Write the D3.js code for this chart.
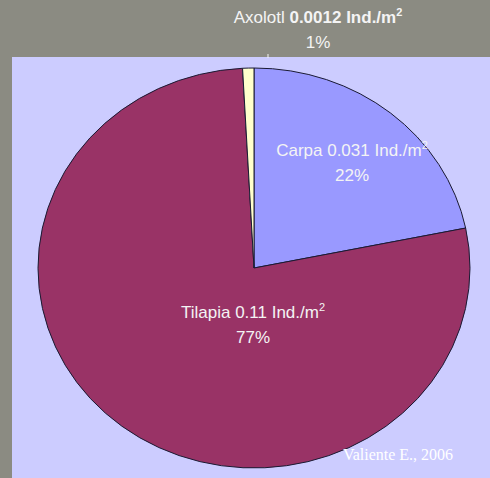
<!DOCTYPE html>
<html><head><meta charset="utf-8">
<script src="https://cdn.jsdelivr.net/npm/d3@7"></script>
<style>body{margin:0;background:#8b8b82;}svg{display:block;}</style>
</head><body>
<svg id="c" width="490" height="478"></svg>
<script>
const categories = ["Carpa", "Tilapia", "Axolotl"];
const densities = [0.031, 0.11, 0.0012];
const percentLabels = ["22%", "77%", "1%"];
const colors = ["#9999ff", "#993366", "#ffffcc"];

const svg = d3.select("#c");
svg.append("rect").attr("width",490).attr("height",478).attr("fill","#8b8b82");
svg.append("rect").attr("x",12).attr("y",57).attr("width",478).attr("height",421).attr("fill","#ccccff");

const cx = 254, cy = 268, r = 200, sx = 1.08;
const pie = d3.pie().sort(null).value(d=>d)(densities);
const arc = d3.arc().innerRadius(0).outerRadius(r);
const g = svg.append("g").attr("transform",`translate(${cx},${cy}) scale(${sx},1)`);
g.selectAll("path").data(pie).join("path")
  .attr("d",arc).attr("fill",(d,i)=>colors[i])
  .attr("stroke","#1a1a33").attr("stroke-width",1).attr("vector-effect","non-scaling-stroke");

const font = "'Liberation Sans', Arial, sans-serif";
function label(x, y, name, val, pct, boldVal){
  const t = svg.append("text").attr("x",x).attr("y",y).attr("text-anchor","middle")
    .attr("font-family",font).attr("font-size",17).attr("fill","#f4f4f4");
  t.append("tspan").text(name + " ");
  const v = t.append("tspan").text(val + " Ind./m");
  if (boldVal) v.attr("font-weight","bold");
  const s = t.append("tspan").text("2").attr("font-size",11).attr("dy",-7);
  if (boldVal) s.attr("font-weight","bold");
  svg.append("text").attr("x",x).attr("y",y+25).attr("text-anchor","middle")
    .attr("font-family",font).attr("font-size",17).attr("fill","#f4f4f4").text(pct);
}
label(352,156,categories[0],densities[0],percentLabels[0],false);
label(253,318,categories[1],densities[1],percentLabels[1],false);
label(318,23,categories[2],densities[2],percentLabels[2],true);

// leader tick for Axolotl
svg.append("line").attr("x1",268).attr("y1",54).attr("x2",268).attr("y2",58).attr("stroke","#f4f4f4").attr("stroke-width",1);

svg.append("text").attr("x",398).attr("y",460).attr("text-anchor","middle")
  .attr("font-family","'Liberation Serif', 'Times New Roman', serif").attr("font-size",16)
  .attr("fill","#ffffff").text("Valiente E., 2006");
</script>
</body></html>
